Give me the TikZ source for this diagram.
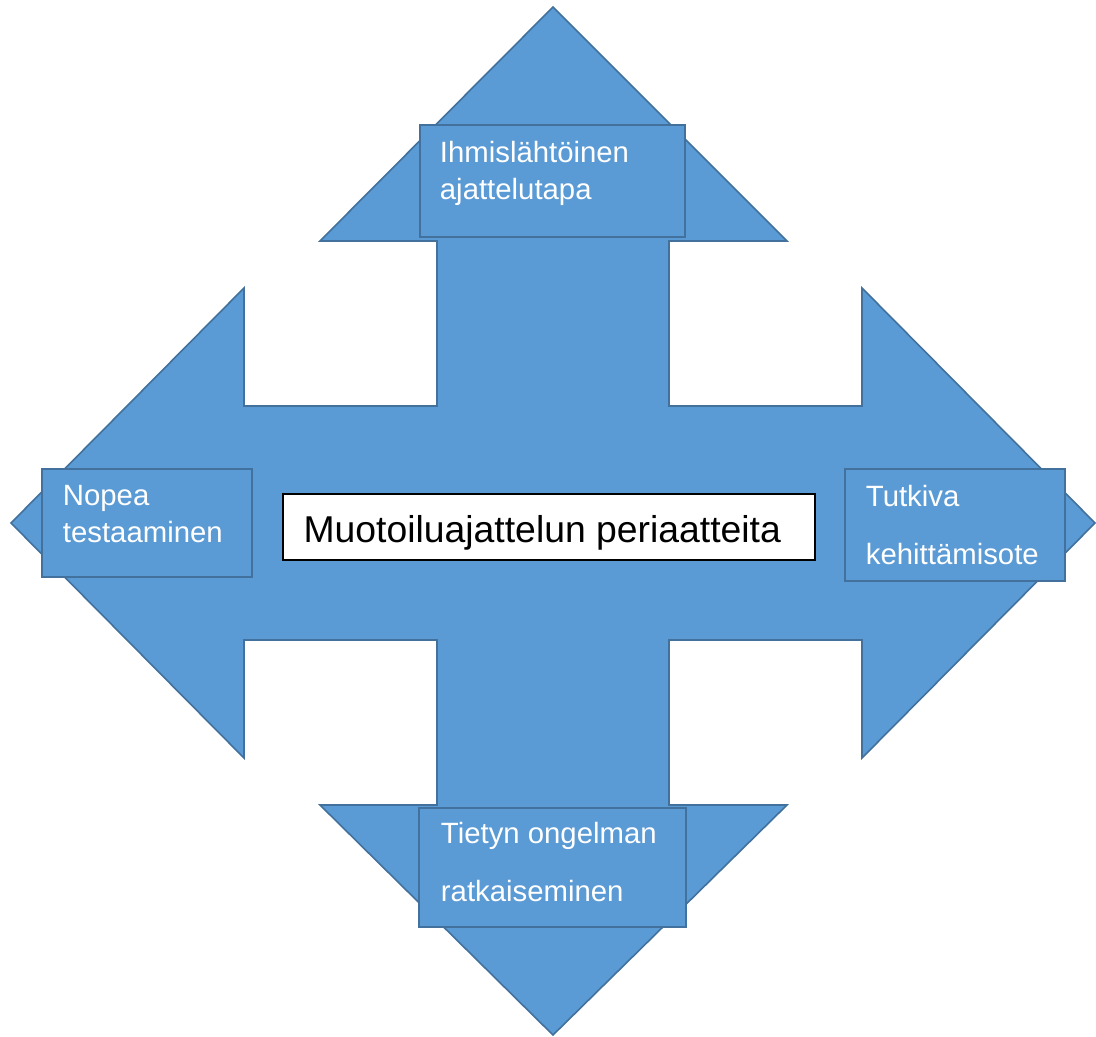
\documentclass[tikz,border=0pt]{standalone}
\usepackage{fontspec}
\setmainfont{Liberation Sans}
\usetikzlibrary{positioning,calc,fit}
\definecolor{arrowblue}{HTML}{5B9BD5}
\definecolor{edgeblue}{HTML}{41719C}

\begin{document}
\begin{tikzpicture}[
  x=0.75pt,y=-0.75pt,
  cross/.style={fill=arrowblue,draw=edgeblue,line width=1.2pt,line join=miter},
  box/.style={rectangle,fill=arrowblue,draw=edgeblue,line width=2pt,inner sep=0pt},
  titlebox/.style={rectangle,fill=white,draw=black,line width=1pt,inner sep=0pt},
  txt/.style={anchor=north west,inner sep=0pt,align=left,text=white,font=\fontsize{22}{28}\selectfont},
  wide/.style={font=\fontsize{22}{43.5}\selectfont}
]
\useasboundingbox (0,0) rectangle (1096,1037);
% four-way arrow
\draw[cross] (553,7) -- (787,241) -- (669,241) -- (669,406) -- (862,406) -- (862,288)
  -- (1095,523) -- (862,758) -- (862,640) -- (669,640) -- (669,805) -- (787,805)
  -- (553,1035) -- (320,805) -- (437,805) -- (437,640) -- (244,640) -- (244,758)
  -- (11,523) -- (244,288) -- (244,406) -- (437,406) -- (437,241) -- (320,241) -- cycle;
% boxes on the arrow heads
\node[box,fit={(420,125) (685,237)}] (top) {};
\node[box,fit={(42,469) (252,577)}] (left) {};
\node[box,fit={(845,469) (1065,581)}] (right) {};
\node[box,fit={(419,808) (686,927)}] (bottom) {};
\node[titlebox,fit={(283,494) (815,560)}] (title) {};
% texts
\node[txt] (topTxt) at ([shift={(21,17)}]top.north west) {Ihmislähtöinen\\ajattelutapa};
\node[txt] (leftTxt) at ([shift={(22,17)}]left.north west) {Nopea\\testaaminen};
\node[txt,wide] (rightTxt) at ([shift={(22,17)}]right.north west) {Tutkiva\\kehittämisote};
\node[txt,wide] (bottomTxt) at ([shift={(23,15)}]bottom.north west) {Tietyn ongelman\\ratkaiseminen};
\node[txt,text=black,font=\fontsize{28}{34}\selectfont] (titleTxt) at ([shift={(21,22)}]title.north west) {Muotoiluajattelun periaatteita};
\end{tikzpicture}
\end{document}
